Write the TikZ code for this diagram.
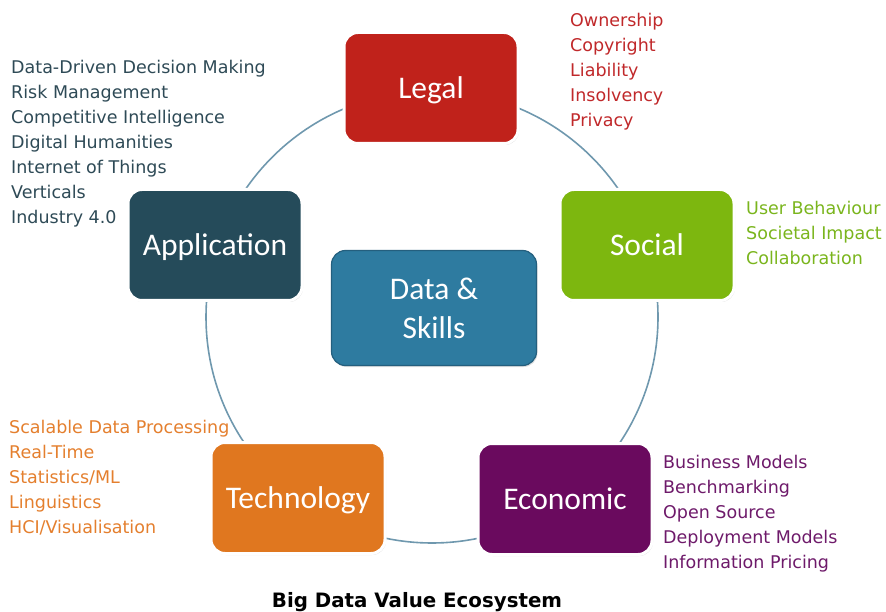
\documentclass[tikz,border=0pt]{standalone}
\usepackage{fontspec}
\setmainfont{DejaVu Sans}
\newfontfamily\boxfont{Carlito}
\usetikzlibrary{shadows}
\definecolor{ringc}{HTML}{6F98AE}
\definecolor{legalc}{HTML}{C0221B}
\definecolor{socialc}{HTML}{7DB70F}
\definecolor{econc}{HTML}{6A0A5E}
\definecolor{techc}{HTML}{E0771F}
\definecolor{appc}{HTML}{254B5A}
\definecolor{datac}{HTML}{2E7BA0}
\definecolor{datab}{HTML}{245F7E}
\definecolor{legalt}{HTML}{C0282A}
\definecolor{socialt}{HTML}{7AB51D}
\definecolor{econt}{HTML}{6E1A6A}
\definecolor{techt}{HTML}{E47F2E}
\definecolor{appt}{HTML}{2E4A56}
\begin{document}
\begin{tikzpicture}[x=1pt,y=-1pt,
  boxnode/.style={rounded corners=14pt, draw=white, line width=3pt,
    minimum width=174pt, minimum height=111pt, text=white, align=center,
    font=\boxfont\fontsize{31.5}{39}\selectfont,
    drop shadow={opacity=0.25, shadow xshift=1pt, shadow yshift=-1.5pt}},
  oneline/.style={text height=20.3pt, text depth=0pt},
  listtext/.style={anchor=base west, inner sep=0pt, font=\fontsize{17.5}{25}\selectfont}]
\useasboundingbox (0,0) rectangle (886,612);
\coordinate (ctr) at (432,317);
\draw[ringc, line width=1.6pt] (ctr) circle [radius=226pt];

\node[boxnode, oneline, fill=legalc] (legal) at (431,88) {Legal};
\node[boxnode, oneline, fill=socialc] (social) at (647,245) {Social};
\node[boxnode, oneline, fill=econc] (econ) at (565,499) {Economic};
\node[boxnode, oneline, fill=techc] (tech) at (298,498) {Technology};
\node[boxnode, oneline, fill=appc] (app) at (215,245) {Application};
\node[boxnode, fill=datac, draw=datab, line width=1.2pt, minimum width=205pt, minimum height=115pt] (data) at (434,308) {Data \&\\Skills};

\foreach \t [count=\i] in {Ownership, Copyright, Liability, Insolvency, Privacy}
  \node[listtext, text=legalt] (legal-\i) at (570, {27+25*(\i-1)}) {\t};
\foreach \t [count=\i] in {User Behaviour, Societal Impact, Collaboration}
  \node[listtext, text=socialt] (social-\i) at (746, {215+25*(\i-1)}) {\t};
\foreach \t [count=\i] in {Business Models, Benchmarking, Open Source, Deployment Models, Information Pricing}
  \node[listtext, text=econt] (econ-\i) at (663, {468+25*(\i-1)}) {\t};
\foreach \t [count=\i] in {Scalable Data Processing, Real-Time, Statistics/ML, Linguistics, HCI/Visualisation}
  \node[listtext, text=techt] (tech-\i) at (9, {433+25*(\i-1)}) {\t};
\foreach \t [count=\i] in {Data-Driven Decision Making, Risk Management, Competitive Intelligence, Digital Humanities, Internet of Things, Verticals, Industry 4.0}
  \node[listtext, text=appt] (app-\i) at (11, {74+25*(\i-1)}) {\t};

\node[anchor=base, inner sep=0pt, font=\bfseries\fontsize{19.8}{23}\selectfont] (title) at (417,607) {Big Data Value Ecosystem};
\end{tikzpicture}
\end{document}
